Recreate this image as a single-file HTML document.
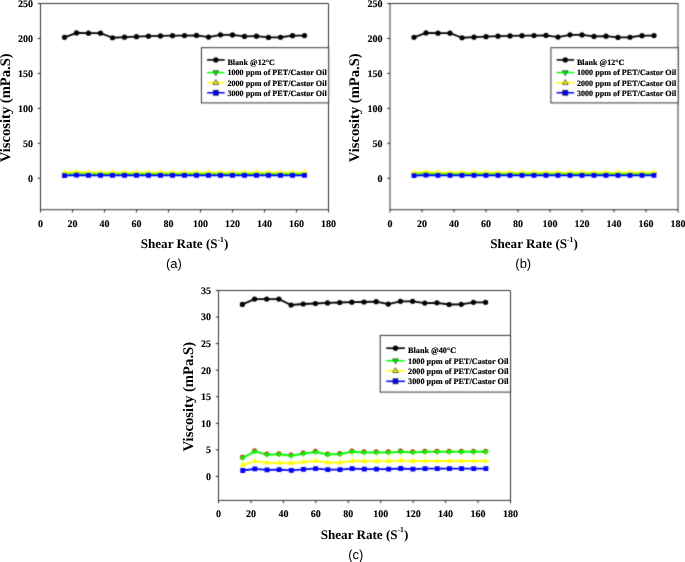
<!DOCTYPE html>
<html><head><meta charset="utf-8"><style>
html,body{margin:0;padding:0;background:#fff;width:685px;height:562px;overflow:hidden}
svg{position:absolute;left:0;top:0}
text{font-family:'Liberation Serif',serif;font-weight:bold;fill:#000;text-rendering:geometricPrecision}
text.lg{stroke:#000;stroke-width:0.18px}
text.tk{stroke:#000;stroke-width:0.12px}
text.cap{font-family:'Liberation Sans',sans-serif;font-weight:normal}
</style></head><body>
<svg width="685" height="562" viewBox="0 0 685 562">
<defs>
<filter id="soft" x="0" y="0" width="100%" height="100%" color-interpolation-filters="sRGB"><feConvolveMatrix order="3" kernelMatrix="0.025 0.1 0.025 0.1 0.5 0.1 0.025 0.1 0.025" edgeMode="duplicate"/></filter>
<filter id="tsoft" x="0" y="0" width="100%" height="100%" color-interpolation-filters="sRGB"><feConvolveMatrix order="3" kernelMatrix="0 0 0 0 1 0 0 0 0" edgeMode="duplicate"/></filter>
</defs>
<rect width="685" height="562" fill="#fff"/>
<g filter="url(#soft)">
<rect width="685" height="562" fill="#fff"/>
<path d="M40.5 3.5H328.5V209.7H40.5Z" fill="none" stroke="#333" stroke-width="1"/>
<path d="M37.8 3.5H40.5M37.8 38.46H40.5M37.8 73.42H40.5M37.8 108.38H40.5M37.8 143.34H40.5M37.8 178.3H40.5M40.5 209.7V212.4M72.5 209.7V212.4M104.5 209.7V212.4M136.5 209.7V212.4M168.5 209.7V212.4M200.5 209.7V212.4M232.5 209.7V212.4M264.5 209.7V212.4M296.5 209.7V212.4M328.5 209.7V212.4" stroke="#222" stroke-width="1" fill="none"/>
<polyline points="64.5,174.3 76.5,173.6 88.5,174 100.5,174 112.5,174 124.5,174 136.5,174 148.5,174 160.5,174 172.5,174 184.5,174 196.5,174 208.5,174 220.5,174 232.5,174 244.5,174 256.5,174 268.5,174 280.5,174 292.5,174 304.5,174" fill="none" stroke="#00ff00" stroke-width="2.0" stroke-linejoin="round"/>
<polyline points="64.5,172.9 76.5,172 88.5,172.6 100.5,172.6 112.5,172.6 124.5,172.6 136.5,172.6 148.5,172.6 160.5,172.6 172.5,172.6 184.5,172.6 196.5,172.6 208.5,172.6 220.5,172.6 232.5,172.6 244.5,172.6 256.5,172.6 268.5,172.6 280.5,172.6 292.5,172.6 304.5,172.6" fill="none" stroke="#ffff00" stroke-width="1.8" stroke-linejoin="round"/>
<polyline points="64.5,175.6 76.5,175.1 88.5,175.35 100.5,175.35 112.5,175.35 124.5,175.35 136.5,175.35 148.5,175.35 160.5,175.35 172.5,175.35 184.5,175.35 196.5,175.35 208.5,175.35 220.5,175.35 232.5,175.35 244.5,175.35 256.5,175.35 268.5,175.35 280.5,175.35 292.5,175.35 304.5,175.35" fill="none" stroke="#0000ff" stroke-width="1.8" stroke-linejoin="round"/>
<polyline points="64.5,37.35 76.5,32.95 88.5,33.15 100.5,33.15 112.5,37.75 124.5,37.15 136.5,36.65 148.5,36.15 160.5,35.95 172.5,35.65 184.5,35.55 196.5,35.45 208.5,37.05 220.5,34.85 232.5,34.95 244.5,36.45 256.5,36.15 268.5,37.45 280.5,37.25 292.5,35.65 304.5,35.55" fill="none" stroke="#000" stroke-width="1.8" stroke-linejoin="round"/>
<g fill="#000"><circle cx="64.5" cy="37.35" r="2.6"/><circle cx="76.5" cy="32.95" r="2.6"/><circle cx="88.5" cy="33.15" r="2.6"/><circle cx="100.5" cy="33.15" r="2.6"/><circle cx="112.5" cy="37.75" r="2.6"/><circle cx="124.5" cy="37.15" r="2.6"/><circle cx="136.5" cy="36.65" r="2.6"/><circle cx="148.5" cy="36.15" r="2.6"/><circle cx="160.5" cy="35.95" r="2.6"/><circle cx="172.5" cy="35.65" r="2.6"/><circle cx="184.5" cy="35.55" r="2.6"/><circle cx="196.5" cy="35.45" r="2.6"/><circle cx="208.5" cy="37.05" r="2.6"/><circle cx="220.5" cy="34.85" r="2.6"/><circle cx="232.5" cy="34.95" r="2.6"/><circle cx="244.5" cy="36.45" r="2.6"/><circle cx="256.5" cy="36.15" r="2.6"/><circle cx="268.5" cy="37.45" r="2.6"/><circle cx="280.5" cy="37.25" r="2.6"/><circle cx="292.5" cy="35.65" r="2.6"/><circle cx="304.5" cy="35.55" r="2.6"/></g>
<path d="M61.5 172.6H67.5L64.5 177.7ZM73.5 171.9H79.5L76.5 177ZM85.5 172.3H91.5L88.5 177.4ZM97.5 172.3H103.5L100.5 177.4ZM109.5 172.3H115.5L112.5 177.4ZM121.5 172.3H127.5L124.5 177.4ZM133.5 172.3H139.5L136.5 177.4ZM145.5 172.3H151.5L148.5 177.4ZM157.5 172.3H163.5L160.5 177.4ZM169.5 172.3H175.5L172.5 177.4ZM181.5 172.3H187.5L184.5 177.4ZM193.5 172.3H199.5L196.5 177.4ZM205.5 172.3H211.5L208.5 177.4ZM217.5 172.3H223.5L220.5 177.4ZM229.5 172.3H235.5L232.5 177.4ZM241.5 172.3H247.5L244.5 177.4ZM253.5 172.3H259.5L256.5 177.4ZM265.5 172.3H271.5L268.5 177.4ZM277.5 172.3H283.5L280.5 177.4ZM289.5 172.3H295.5L292.5 177.4ZM301.5 172.3H307.5L304.5 177.4Z" fill="#00ff00"/>
<path d="M61.5 174.7H67.5L64.5 169.3ZM73.5 173.8H79.5L76.5 168.4ZM85.5 174.4H91.5L88.5 169ZM97.5 174.4H103.5L100.5 169ZM109.5 174.4H115.5L112.5 169ZM121.5 174.4H127.5L124.5 169ZM133.5 174.4H139.5L136.5 169ZM145.5 174.4H151.5L148.5 169ZM157.5 174.4H163.5L160.5 169ZM169.5 174.4H175.5L172.5 169ZM181.5 174.4H187.5L184.5 169ZM193.5 174.4H199.5L196.5 169ZM205.5 174.4H211.5L208.5 169ZM217.5 174.4H223.5L220.5 169ZM229.5 174.4H235.5L232.5 169ZM241.5 174.4H247.5L244.5 169ZM253.5 174.4H259.5L256.5 169ZM265.5 174.4H271.5L268.5 169ZM277.5 174.4H283.5L280.5 169ZM289.5 174.4H295.5L292.5 169ZM301.5 174.4H307.5L304.5 169Z" fill="#ffff00"/>
<path d="M62.1 173.2h4.8v4.8h-4.8ZM74.1 172.7h4.8v4.8h-4.8ZM86.1 172.95h4.8v4.8h-4.8ZM98.1 172.95h4.8v4.8h-4.8ZM110.1 172.95h4.8v4.8h-4.8ZM122.1 172.95h4.8v4.8h-4.8ZM134.1 172.95h4.8v4.8h-4.8ZM146.1 172.95h4.8v4.8h-4.8ZM158.1 172.95h4.8v4.8h-4.8ZM170.1 172.95h4.8v4.8h-4.8ZM182.1 172.95h4.8v4.8h-4.8ZM194.1 172.95h4.8v4.8h-4.8ZM206.1 172.95h4.8v4.8h-4.8ZM218.1 172.95h4.8v4.8h-4.8ZM230.1 172.95h4.8v4.8h-4.8ZM242.1 172.95h4.8v4.8h-4.8ZM254.1 172.95h4.8v4.8h-4.8ZM266.1 172.95h4.8v4.8h-4.8ZM278.1 172.95h4.8v4.8h-4.8ZM290.1 172.95h4.8v4.8h-4.8ZM302.1 172.95h4.8v4.8h-4.8Z" fill="#0000ff"/>
<rect x="201.4" y="47.7" width="127.3" height="55.2" fill="#fff" stroke="#333" stroke-width="1"/>
<path d="M207.1 59.9H224.7" stroke="#000" stroke-width="1.6"/>
<circle cx="215.8" cy="59.9" r="2.6"/>
<path d="M207.1 72.55H224.7" stroke="#00ff00" stroke-width="1.5"/>
<path d="M213 70.75H218.6L215.8 75.55Z" fill="#00ff00" stroke="#222" stroke-width="0.7"/>
<path d="M207.1 82.6H224.7" stroke="#ffff00" stroke-width="1.5"/>
<path d="M213 84.4H218.6L215.8 79.6Z" fill="#ffff00" stroke="#222" stroke-width="0.7"/>
<path d="M207.1 92.75H224.7" stroke="#0000ff" stroke-width="1.5"/>
<rect x="213.3" y="90.25" width="5" height="5" fill="#0000ff" stroke="#222" stroke-width="0.7"/>
<path d="M390 3.5H678V209.7H390Z" fill="none" stroke="#333" stroke-width="1"/>
<path d="M387.3 3.5H390M387.3 38.46H390M387.3 73.42H390M387.3 108.38H390M387.3 143.34H390M387.3 178.3H390M390 209.7V212.4M422 209.7V212.4M454 209.7V212.4M486 209.7V212.4M518 209.7V212.4M550 209.7V212.4M582 209.7V212.4M614 209.7V212.4M646 209.7V212.4M678 209.7V212.4" stroke="#222" stroke-width="1" fill="none"/>
<polyline points="414,174.3 426,173.6 438,174 450,174 462,174 474,174 486,174 498,174 510,174 522,174 534,174 546,174 558,174 570,174 582,174 594,174 606,174 618,174 630,174 642,174 654,174" fill="none" stroke="#00ff00" stroke-width="2.0" stroke-linejoin="round"/>
<polyline points="414,172.9 426,172 438,172.6 450,172.6 462,172.6 474,172.6 486,172.6 498,172.6 510,172.6 522,172.6 534,172.6 546,172.6 558,172.6 570,172.6 582,172.6 594,172.6 606,172.6 618,172.6 630,172.6 642,172.6 654,172.6" fill="none" stroke="#ffff00" stroke-width="1.8" stroke-linejoin="round"/>
<polyline points="414,175.6 426,175.1 438,175.35 450,175.35 462,175.35 474,175.35 486,175.35 498,175.35 510,175.35 522,175.35 534,175.35 546,175.35 558,175.35 570,175.35 582,175.35 594,175.35 606,175.35 618,175.35 630,175.35 642,175.35 654,175.35" fill="none" stroke="#0000ff" stroke-width="1.8" stroke-linejoin="round"/>
<polyline points="414,37.35 426,32.95 438,33.15 450,33.15 462,37.75 474,37.15 486,36.65 498,36.15 510,35.95 522,35.65 534,35.55 546,35.45 558,37.05 570,34.85 582,34.95 594,36.45 606,36.15 618,37.45 630,37.25 642,35.65 654,35.55" fill="none" stroke="#000" stroke-width="1.8" stroke-linejoin="round"/>
<g fill="#000"><circle cx="414" cy="37.35" r="2.6"/><circle cx="426" cy="32.95" r="2.6"/><circle cx="438" cy="33.15" r="2.6"/><circle cx="450" cy="33.15" r="2.6"/><circle cx="462" cy="37.75" r="2.6"/><circle cx="474" cy="37.15" r="2.6"/><circle cx="486" cy="36.65" r="2.6"/><circle cx="498" cy="36.15" r="2.6"/><circle cx="510" cy="35.95" r="2.6"/><circle cx="522" cy="35.65" r="2.6"/><circle cx="534" cy="35.55" r="2.6"/><circle cx="546" cy="35.45" r="2.6"/><circle cx="558" cy="37.05" r="2.6"/><circle cx="570" cy="34.85" r="2.6"/><circle cx="582" cy="34.95" r="2.6"/><circle cx="594" cy="36.45" r="2.6"/><circle cx="606" cy="36.15" r="2.6"/><circle cx="618" cy="37.45" r="2.6"/><circle cx="630" cy="37.25" r="2.6"/><circle cx="642" cy="35.65" r="2.6"/><circle cx="654" cy="35.55" r="2.6"/></g>
<path d="M411 172.6H417L414 177.7ZM423 171.9H429L426 177ZM435 172.3H441L438 177.4ZM447 172.3H453L450 177.4ZM459 172.3H465L462 177.4ZM471 172.3H477L474 177.4ZM483 172.3H489L486 177.4ZM495 172.3H501L498 177.4ZM507 172.3H513L510 177.4ZM519 172.3H525L522 177.4ZM531 172.3H537L534 177.4ZM543 172.3H549L546 177.4ZM555 172.3H561L558 177.4ZM567 172.3H573L570 177.4ZM579 172.3H585L582 177.4ZM591 172.3H597L594 177.4ZM603 172.3H609L606 177.4ZM615 172.3H621L618 177.4ZM627 172.3H633L630 177.4ZM639 172.3H645L642 177.4ZM651 172.3H657L654 177.4Z" fill="#00ff00"/>
<path d="M411 174.7H417L414 169.3ZM423 173.8H429L426 168.4ZM435 174.4H441L438 169ZM447 174.4H453L450 169ZM459 174.4H465L462 169ZM471 174.4H477L474 169ZM483 174.4H489L486 169ZM495 174.4H501L498 169ZM507 174.4H513L510 169ZM519 174.4H525L522 169ZM531 174.4H537L534 169ZM543 174.4H549L546 169ZM555 174.4H561L558 169ZM567 174.4H573L570 169ZM579 174.4H585L582 169ZM591 174.4H597L594 169ZM603 174.4H609L606 169ZM615 174.4H621L618 169ZM627 174.4H633L630 169ZM639 174.4H645L642 169ZM651 174.4H657L654 169Z" fill="#ffff00"/>
<path d="M411.6 173.2h4.8v4.8h-4.8ZM423.6 172.7h4.8v4.8h-4.8ZM435.6 172.95h4.8v4.8h-4.8ZM447.6 172.95h4.8v4.8h-4.8ZM459.6 172.95h4.8v4.8h-4.8ZM471.6 172.95h4.8v4.8h-4.8ZM483.6 172.95h4.8v4.8h-4.8ZM495.6 172.95h4.8v4.8h-4.8ZM507.6 172.95h4.8v4.8h-4.8ZM519.6 172.95h4.8v4.8h-4.8ZM531.6 172.95h4.8v4.8h-4.8ZM543.6 172.95h4.8v4.8h-4.8ZM555.6 172.95h4.8v4.8h-4.8ZM567.6 172.95h4.8v4.8h-4.8ZM579.6 172.95h4.8v4.8h-4.8ZM591.6 172.95h4.8v4.8h-4.8ZM603.6 172.95h4.8v4.8h-4.8ZM615.6 172.95h4.8v4.8h-4.8ZM627.6 172.95h4.8v4.8h-4.8ZM639.6 172.95h4.8v4.8h-4.8ZM651.6 172.95h4.8v4.8h-4.8Z" fill="#0000ff"/>
<rect x="550.9" y="47.7" width="127.3" height="55.2" fill="#fff" stroke="#333" stroke-width="1"/>
<path d="M556.6 59.9H574.2" stroke="#000" stroke-width="1.6"/>
<circle cx="565.3" cy="59.9" r="2.6"/>
<path d="M556.6 72.55H574.2" stroke="#00ff00" stroke-width="1.5"/>
<path d="M562.5 70.75H568.1L565.3 75.55Z" fill="#00ff00" stroke="#222" stroke-width="0.7"/>
<path d="M556.6 82.6H574.2" stroke="#ffff00" stroke-width="1.5"/>
<path d="M562.5 84.4H568.1L565.3 79.6Z" fill="#ffff00" stroke="#222" stroke-width="0.7"/>
<path d="M556.6 92.75H574.2" stroke="#0000ff" stroke-width="1.5"/>
<rect x="562.8" y="90.25" width="5" height="5" fill="#0000ff" stroke="#222" stroke-width="0.7"/>
<path d="M218.5 290.5H510.5V500.4H218.5Z" fill="none" stroke="#333" stroke-width="1"/>
<path d="M215.8 290.5H218.5M215.8 317.06H218.5M215.8 343.61H218.5M215.8 370.17H218.5M215.8 396.73H218.5M215.8 423.29H218.5M215.8 449.84H218.5M215.8 476.4H218.5M218.5 500.4V503.1M250.94 500.4V503.1M283.39 500.4V503.1M315.83 500.4V503.1M348.28 500.4V503.1M380.72 500.4V503.1M413.17 500.4V503.1M445.61 500.4V503.1M478.06 500.4V503.1M510.5 500.4V503.1" stroke="#222" stroke-width="1" fill="none"/>
<polyline points="242.7,457.9 254.86,451.4 267.02,454.7 279.18,454.3 291.34,455.7 303.5,453.6 315.66,451.9 327.82,454.5 339.98,454.1 352.14,451.7 364.3,452.4 376.46,452.4 388.62,452.4 400.78,451.7 412.94,452.4 425.1,451.8 437.26,451.8 449.42,451.8 461.58,451.8 473.74,451.8 485.9,451.8" fill="none" stroke="#00ff00" stroke-width="2.0" stroke-linejoin="round"/>
<polyline points="242.7,464.9 254.86,461.3 267.02,462.8 279.18,462.8 291.34,463.2 303.5,462 315.66,460.9 327.82,462.6 339.98,462.6 352.14,460.9 364.3,461.1 376.46,461.1 388.62,461.1 400.78,460.4 412.94,461.1 425.1,461 437.26,461 449.42,461 461.58,461 473.74,461 485.9,461" fill="none" stroke="#ffff00" stroke-width="1.8" stroke-linejoin="round"/>
<polyline points="242.7,470.5 254.86,468.9 267.02,469.9 279.18,469.6 291.34,470.4 303.5,469.4 315.66,468.7 327.82,469.6 339.98,469.6 352.14,468.7 364.3,469.1 376.46,469.1 388.62,469.1 400.78,468.5 412.94,469.1 425.1,468.7 437.26,468.7 449.42,468.7 461.58,468.7 473.74,468.7 485.9,468.7" fill="none" stroke="#0000ff" stroke-width="1.8" stroke-linejoin="round"/>
<polyline points="242.4,304.4 254.56,299.1 266.72,299.1 278.88,299.1 291.04,305 303.2,304 315.36,303.5 327.52,302.9 339.68,302.5 351.84,302.2 364,302 376.16,301.7 388.32,304.1 400.48,301.3 412.64,301.3 424.8,303.1 436.96,302.8 449.12,304.5 461.28,304.3 473.44,302.3 485.6,302.3" fill="none" stroke="#000" stroke-width="1.8" stroke-linejoin="round"/>
<g fill="#000"><circle cx="242.4" cy="304.4" r="2.6"/><circle cx="254.56" cy="299.1" r="2.6"/><circle cx="266.72" cy="299.1" r="2.6"/><circle cx="278.88" cy="299.1" r="2.6"/><circle cx="291.04" cy="305" r="2.6"/><circle cx="303.2" cy="304" r="2.6"/><circle cx="315.36" cy="303.5" r="2.6"/><circle cx="327.52" cy="302.9" r="2.6"/><circle cx="339.68" cy="302.5" r="2.6"/><circle cx="351.84" cy="302.2" r="2.6"/><circle cx="364" cy="302" r="2.6"/><circle cx="376.16" cy="301.7" r="2.6"/><circle cx="388.32" cy="304.1" r="2.6"/><circle cx="400.48" cy="301.3" r="2.6"/><circle cx="412.64" cy="301.3" r="2.6"/><circle cx="424.8" cy="303.1" r="2.6"/><circle cx="436.96" cy="302.8" r="2.6"/><circle cx="449.12" cy="304.5" r="2.6"/><circle cx="461.28" cy="304.3" r="2.6"/><circle cx="473.44" cy="302.3" r="2.6"/><circle cx="485.6" cy="302.3" r="2.6"/></g>
<g fill="#d02010"><circle cx="242.4" cy="457.3" r="2.5"/><circle cx="254.56" cy="450.8" r="2.5"/><circle cx="266.72" cy="454.1" r="2.5"/><circle cx="278.88" cy="453.7" r="2.5"/><circle cx="291.04" cy="455.1" r="2.5"/><circle cx="303.2" cy="453" r="2.5"/><circle cx="315.36" cy="451.3" r="2.5"/><circle cx="327.52" cy="453.9" r="2.5"/><circle cx="339.68" cy="453.5" r="2.5"/><circle cx="351.84" cy="451.1" r="2.5"/><circle cx="364" cy="451.8" r="2.5"/><circle cx="376.16" cy="451.8" r="2.5"/><circle cx="388.32" cy="451.8" r="2.5"/><circle cx="400.48" cy="451.1" r="2.5"/><circle cx="412.64" cy="451.8" r="2.5"/><circle cx="424.8" cy="451.2" r="2.5"/><circle cx="436.96" cy="451.2" r="2.5"/><circle cx="449.12" cy="451.2" r="2.5"/><circle cx="461.28" cy="451.2" r="2.5"/><circle cx="473.44" cy="451.2" r="2.5"/><circle cx="485.6" cy="451.2" r="2.5"/></g>
<path d="M239.7 456.2H245.7L242.7 461.3ZM251.86 449.7H257.86L254.86 454.8ZM264.02 453H270.02L267.02 458.1ZM276.18 452.6H282.18L279.18 457.7ZM288.34 454H294.34L291.34 459.1ZM300.5 451.9H306.5L303.5 457ZM312.66 450.2H318.66L315.66 455.3ZM324.82 452.8H330.82L327.82 457.9ZM336.98 452.4H342.98L339.98 457.5ZM349.14 450H355.14L352.14 455.1ZM361.3 450.7H367.3L364.3 455.8ZM373.46 450.7H379.46L376.46 455.8ZM385.62 450.7H391.62L388.62 455.8ZM397.78 450H403.78L400.78 455.1ZM409.94 450.7H415.94L412.94 455.8ZM422.1 450.1H428.1L425.1 455.2ZM434.26 450.1H440.26L437.26 455.2ZM446.42 450.1H452.42L449.42 455.2ZM458.58 450.1H464.58L461.58 455.2ZM470.74 450.1H476.74L473.74 455.2ZM482.9 450.1H488.9L485.9 455.2Z" fill="#00ff00"/>
<path d="M239.7 466.7H245.7L242.7 461.3ZM251.86 463.1H257.86L254.86 457.7ZM264.02 464.6H270.02L267.02 459.2ZM276.18 464.6H282.18L279.18 459.2ZM288.34 465H294.34L291.34 459.6ZM300.5 463.8H306.5L303.5 458.4ZM312.66 462.7H318.66L315.66 457.3ZM324.82 464.4H330.82L327.82 459ZM336.98 464.4H342.98L339.98 459ZM349.14 462.7H355.14L352.14 457.3ZM361.3 462.9H367.3L364.3 457.5ZM373.46 462.9H379.46L376.46 457.5ZM385.62 462.9H391.62L388.62 457.5ZM397.78 462.2H403.78L400.78 456.8ZM409.94 462.9H415.94L412.94 457.5ZM422.1 462.8H428.1L425.1 457.4ZM434.26 462.8H440.26L437.26 457.4ZM446.42 462.8H452.42L449.42 457.4ZM458.58 462.8H464.58L461.58 457.4ZM470.74 462.8H476.74L473.74 457.4ZM482.9 462.8H488.9L485.9 457.4Z" fill="#ffff00"/>
<path d="M240.3 468.1h4.8v4.8h-4.8ZM252.46 466.5h4.8v4.8h-4.8ZM264.62 467.5h4.8v4.8h-4.8ZM276.78 467.2h4.8v4.8h-4.8ZM288.94 468h4.8v4.8h-4.8ZM301.1 467h4.8v4.8h-4.8ZM313.26 466.3h4.8v4.8h-4.8ZM325.42 467.2h4.8v4.8h-4.8ZM337.58 467.2h4.8v4.8h-4.8ZM349.74 466.3h4.8v4.8h-4.8ZM361.9 466.7h4.8v4.8h-4.8ZM374.06 466.7h4.8v4.8h-4.8ZM386.22 466.7h4.8v4.8h-4.8ZM398.38 466.1h4.8v4.8h-4.8ZM410.54 466.7h4.8v4.8h-4.8ZM422.7 466.3h4.8v4.8h-4.8ZM434.86 466.3h4.8v4.8h-4.8ZM447.02 466.3h4.8v4.8h-4.8ZM459.18 466.3h4.8v4.8h-4.8ZM471.34 466.3h4.8v4.8h-4.8ZM483.5 466.3h4.8v4.8h-4.8Z" fill="#0000ff"/>
<rect x="380.2" y="335.4" width="130.4" height="56.7" fill="#fff" stroke="#333" stroke-width="1"/>
<path d="M386.2 348.2H404.9" stroke="#000" stroke-width="1.6"/>
<circle cx="395.5" cy="348.2" r="2.6"/>
<path d="M386.2 360.7H404.9" stroke="#00ff00" stroke-width="1.5"/>
<path d="M392.7 358.9H398.3L395.5 363.7Z" fill="#00ff00" stroke="#222" stroke-width="0.7"/>
<path d="M386.2 370.8H404.9" stroke="#ffff00" stroke-width="1.5"/>
<path d="M392.7 372.6H398.3L395.5 367.8Z" fill="#ffff00" stroke="#222" stroke-width="0.7"/>
<path d="M386.2 381.3H404.9" stroke="#0000ff" stroke-width="1.5"/>
<rect x="393" y="378.8" width="5" height="5" fill="#0000ff" stroke="#222" stroke-width="0.7"/>
</g>
<g filter="url(#tsoft)">
<text class="tk" x="33" y="6.9" text-anchor="end" font-size="10">250</text>
<text class="tk" x="33" y="41.86" text-anchor="end" font-size="10">200</text>
<text class="tk" x="33" y="76.82" text-anchor="end" font-size="10">150</text>
<text class="tk" x="33" y="111.78" text-anchor="end" font-size="10">100</text>
<text class="tk" x="33" y="146.74" text-anchor="end" font-size="10">50</text>
<text class="tk" x="33" y="181.7" text-anchor="end" font-size="10">0</text>
<text class="tk" x="40.5" y="226.7" text-anchor="middle" font-size="10">0</text>
<text class="tk" x="72.5" y="226.7" text-anchor="middle" font-size="10">20</text>
<text class="tk" x="104.5" y="226.7" text-anchor="middle" font-size="10">40</text>
<text class="tk" x="136.5" y="226.7" text-anchor="middle" font-size="10">60</text>
<text class="tk" x="168.5" y="226.7" text-anchor="middle" font-size="10">80</text>
<text class="tk" x="200.5" y="226.7" text-anchor="middle" font-size="10">100</text>
<text class="tk" x="232.5" y="226.7" text-anchor="middle" font-size="10">120</text>
<text class="tk" x="264.5" y="226.7" text-anchor="middle" font-size="10">140</text>
<text class="tk" x="296.5" y="226.7" text-anchor="middle" font-size="10">160</text>
<text class="tk" x="328.5" y="226.7" text-anchor="middle" font-size="10">180</text>
<text x="184.5" y="248.3" text-anchor="middle" font-size="13.1">Shear Rate (S<tspan font-size="7.6" dy="-6.55">-1</tspan><tspan dy="6.55">)</tspan></text>
<text transform="translate(10.3 107.75) rotate(-90)" text-anchor="middle" font-size="14.6">Viscosity (mPa.S)</text>
<text class="lg" x="227.4" y="64.5" font-size="8.1">Blank @12°C</text>
<text class="lg" x="227.4" y="75.45" font-size="8.1" textLength="99.3" lengthAdjust="spacingAndGlyphs">1000 ppm of PET/Castor Oil</text>
<text class="lg" x="227.4" y="85.5" font-size="8.1" textLength="99.3" lengthAdjust="spacingAndGlyphs">2000 ppm of PET/Castor Oil</text>
<text class="lg" x="227.4" y="95.65" font-size="8.1" textLength="99.3" lengthAdjust="spacingAndGlyphs">3000 ppm of PET/Castor Oil</text>
<text class="tk" x="382.5" y="6.9" text-anchor="end" font-size="10">250</text>
<text class="tk" x="382.5" y="41.86" text-anchor="end" font-size="10">200</text>
<text class="tk" x="382.5" y="76.82" text-anchor="end" font-size="10">150</text>
<text class="tk" x="382.5" y="111.78" text-anchor="end" font-size="10">100</text>
<text class="tk" x="382.5" y="146.74" text-anchor="end" font-size="10">50</text>
<text class="tk" x="382.5" y="181.7" text-anchor="end" font-size="10">0</text>
<text class="tk" x="390" y="226.7" text-anchor="middle" font-size="10">0</text>
<text class="tk" x="422" y="226.7" text-anchor="middle" font-size="10">20</text>
<text class="tk" x="454" y="226.7" text-anchor="middle" font-size="10">40</text>
<text class="tk" x="486" y="226.7" text-anchor="middle" font-size="10">60</text>
<text class="tk" x="518" y="226.7" text-anchor="middle" font-size="10">80</text>
<text class="tk" x="550" y="226.7" text-anchor="middle" font-size="10">100</text>
<text class="tk" x="582" y="226.7" text-anchor="middle" font-size="10">120</text>
<text class="tk" x="614" y="226.7" text-anchor="middle" font-size="10">140</text>
<text class="tk" x="646" y="226.7" text-anchor="middle" font-size="10">160</text>
<text class="tk" x="678" y="226.7" text-anchor="middle" font-size="10">180</text>
<text x="534" y="248.3" text-anchor="middle" font-size="13.1">Shear Rate (S<tspan font-size="7.6" dy="-6.55">-1</tspan><tspan dy="6.55">)</tspan></text>
<text transform="translate(359.3 107.75) rotate(-90)" text-anchor="middle" font-size="14.6">Viscosity (mPa.S)</text>
<text class="lg" x="576.9" y="64.5" font-size="8.1">Blank @12°C</text>
<text class="lg" x="576.9" y="75.45" font-size="8.1" textLength="99.3" lengthAdjust="spacingAndGlyphs">1000 ppm of PET/Castor Oil</text>
<text class="lg" x="576.9" y="85.5" font-size="8.1" textLength="99.3" lengthAdjust="spacingAndGlyphs">2000 ppm of PET/Castor Oil</text>
<text class="lg" x="576.9" y="95.65" font-size="8.1" textLength="99.3" lengthAdjust="spacingAndGlyphs">3000 ppm of PET/Castor Oil</text>
<text class="tk" x="211" y="293.9" text-anchor="end" font-size="10">35</text>
<text class="tk" x="211" y="320.46" text-anchor="end" font-size="10">30</text>
<text class="tk" x="211" y="347.01" text-anchor="end" font-size="10">25</text>
<text class="tk" x="211" y="373.57" text-anchor="end" font-size="10">20</text>
<text class="tk" x="211" y="400.13" text-anchor="end" font-size="10">15</text>
<text class="tk" x="211" y="426.69" text-anchor="end" font-size="10">10</text>
<text class="tk" x="211" y="453.24" text-anchor="end" font-size="10">5</text>
<text class="tk" x="211" y="479.8" text-anchor="end" font-size="10">0</text>
<text class="tk" x="218.5" y="517.3" text-anchor="middle" font-size="10">0</text>
<text class="tk" x="250.94" y="517.3" text-anchor="middle" font-size="10">20</text>
<text class="tk" x="283.39" y="517.3" text-anchor="middle" font-size="10">40</text>
<text class="tk" x="315.83" y="517.3" text-anchor="middle" font-size="10">60</text>
<text class="tk" x="348.28" y="517.3" text-anchor="middle" font-size="10">80</text>
<text class="tk" x="380.72" y="517.3" text-anchor="middle" font-size="10">100</text>
<text class="tk" x="413.17" y="517.3" text-anchor="middle" font-size="10">120</text>
<text class="tk" x="445.61" y="517.3" text-anchor="middle" font-size="10">140</text>
<text class="tk" x="478.06" y="517.3" text-anchor="middle" font-size="10">160</text>
<text class="tk" x="510.5" y="517.3" text-anchor="middle" font-size="10">180</text>
<text x="364.5" y="538.6" text-anchor="middle" font-size="13.1">Shear Rate (S<tspan font-size="7.6" dy="-6.55">-1</tspan><tspan dy="6.55">)</tspan></text>
<text transform="translate(192.6 396.65) rotate(-90)" text-anchor="middle" font-size="14.7">Viscosity (mPa.S)</text>
<text class="lg" x="408.1" y="352.8" font-size="8.2">Blank @40°C</text>
<text class="lg" x="408.1" y="363.6" font-size="8.2" textLength="100.4" lengthAdjust="spacingAndGlyphs">1000 ppm of PET/Castor Oil</text>
<text class="lg" x="408.1" y="373.7" font-size="8.2" textLength="100.4" lengthAdjust="spacingAndGlyphs">2000 ppm of PET/Castor Oil</text>
<text class="lg" x="408.1" y="384.2" font-size="8.2" textLength="100.4" lengthAdjust="spacingAndGlyphs">3000 ppm of PET/Castor Oil</text>
<g font-size="13" text-anchor="middle">
<text class="cap" x="173.9" y="268">(a)</text>
<text class="cap" x="523.25" y="268">(b)</text>
<text class="cap" x="355.8" y="558.7">(c)</text>
</g>
</g>
</svg>
</body></html>
